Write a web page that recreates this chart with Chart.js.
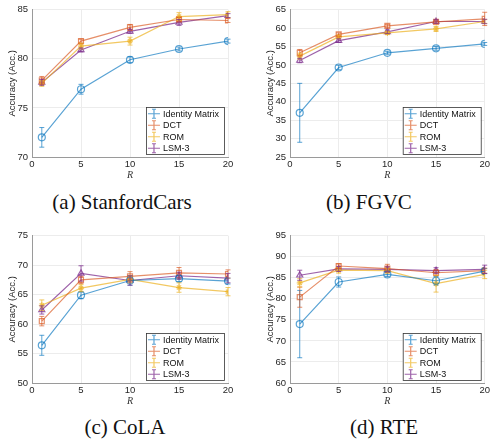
<!DOCTYPE html>
<html>
<head>
<meta charset="utf-8">
<script src="https://cdn.jsdelivr.net/npm/chart.js@4.4.1/dist/chart.umd.min.js"></script>
<style>
  body { margin: 0; background: #fff; width: 492px; height: 440px; overflow: hidden; position: relative; }
  canvas { position: absolute; }
  .cap { position: absolute; font-family: "Liberation Serif", "DejaVu Serif", serif; font-size: 21px; color: #111;
         white-space: nowrap; transform: translate(-50%, -50%); }
</style>
</head>
<body>
<canvas id="cars" width="240" height="185" style="left:0;top:0"></canvas>
<canvas id="fgvc" width="234" height="185" style="left:258px;top:0"></canvas>
<canvas id="cola" width="240" height="185" style="left:0;top:226px"></canvas>
<canvas id="rte" width="234" height="185" style="left:258px;top:226px"></canvas>
<div class="cap" style="left:122px;top:202px">(a) StanfordCars</div>
<div class="cap" style="left:369px;top:202px">(b) FGVC</div>
<div class="cap" style="left:125px;top:427px">(c) CoLA</div>
<div class="cap" style="left:384px;top:427px">(d) RTE</div>
<script>
// x positions (rank R) and series names
const rValues = [1, 5, 10, 15, 20];
const seriesNames = ['Identity Matrix', 'DCT', 'ROM', 'LSM-3'];

// means per panel, one row per series (Identity, DCT, ROM, LSM-3)
const carsMeans = [
  [72.0, 76.9, 79.9, 81.0, 81.8],
  [77.8, 81.8, 83.2, 84.0, 83.9],
  [77.5, 81.3, 81.8, 84.3, 84.5],
  [77.6, 80.9, 82.8, 83.7, 84.4]
];
const carsErrors = [
  [1.0, 0.5, 0.3, 0.2, 0.2],
  [0.4, 0.2, 0.3, 0.2, 0.2],
  [0.3, 0.3, 0.4, 0.4, 0.3],
  [0.3, 0.2, 0.2, 0.3, 0.2]
];
const fgvcMeans = [
  [37.0, 49.3, 53.3, 54.5, 55.7],
  [53.3, 58.3, 60.6, 61.7, 62.5],
  [52.4, 57.6, 58.7, 59.8, 61.8],
  [51.2, 56.6, 59.0, 61.8, 61.8]
];
const fgvcErrors = [
  [8.0, 0.6, 0.4, 0.5, 0.4],
  [0.9, 0.4, 0.4, 0.4, 1.8],
  [0.8, 0.5, 0.4, 0.7, 0.5],
  [0.6, 0.5, 0.5, 0.5, 0.6]
];
const colaMeans = [
  [56.4, 64.9, 67.4, 67.7, 67.3],
  [60.5, 67.5, 68.1, 68.7, 68.5],
  [63.2, 66.1, 67.6, 66.2, 65.5],
  [62.4, 68.6, 67.4, 68.2, 67.8]
];
const colaErrors = [
  [1.7, 0.6, 0.8, 0.5, 0.5],
  [0.8, 0.6, 0.8, 0.9, 0.7],
  [0.9, 0.6, 0.6, 0.8, 0.7],
  [0.7, 1.3, 0.8, 0.6, 0.8]
];
const rteMeans = [
  [74.0, 84.0, 85.8, 84.3, 86.6],
  [80.4, 87.8, 87.2, 86.2, 86.7],
  [83.8, 86.8, 86.7, 83.6, 85.8],
  [85.6, 87.1, 87.0, 86.7, 87.0]
];
const rteErrors = [
  [8.0, 1.2, 0.5, 1.0, 0.6],
  [2.4, 0.5, 1.0, 0.7, 0.6],
  [1.0, 0.7, 0.6, 2.0, 1.0],
  [1.2, 0.6, 0.6, 0.7, 1.0]
];

const colors = ['rgba(0,114,189,0.65)', 'rgba(217,83,25,0.65)', 'rgba(237,177,32,0.7)', 'rgba(126,47,142,0.75)'];
const markers = ['circle', 'rect', 'star', 'triangle'];
const sans = '"Liberation Sans", Arial, sans-serif';

// vertical error bars with caps, drawn through the chart's scales
const errorBars = {
  id: 'errorBars',
  afterDatasetsDraw(chart, args, opts) {
    const { ctx, scales: { x, y } } = chart;
    ctx.save();
    chart.data.datasets.forEach((ds, i) => {
      ctx.strokeStyle = ds.borderColor;
      ctx.lineWidth = 1;
      ds.data.forEach((p, j) => {
        const e = opts.errors[i][j];
        const px = x.getPixelForValue(p.x);
        const top = y.getPixelForValue(p.y + e);
        const bot = y.getPixelForValue(p.y - e);
        ctx.beginPath();
        ctx.moveTo(px, top); ctx.lineTo(px, bot);
        ctx.moveTo(px - 2.5, top); ctx.lineTo(px + 2.5, top);
        ctx.moveTo(px - 2.5, bot); ctx.lineTo(px + 2.5, bot);
        ctx.stroke();
      });
    });
    ctx.restore();
  }
};

// boxed legend inside the lower right corner, MATLAB style
const boxLegend = {
  id: 'boxLegend',
  afterDraw(chart) {
    const { ctx, chartArea } = chart;
    ctx.save();
    ctx.font = '9px ' + sans;
    const textW = Math.max(...seriesNames.map(n => ctx.measureText(n).width));
    const rowH = 11.5;
    const w = textW + 22;
    const h = rowH * seriesNames.length + 1;
    const x0 = chartArea.right - 4 - w;
    const y0 = chartArea.bottom - 3 - h;
    ctx.fillStyle = '#fff';
    ctx.fillRect(x0, y0, w, h);
    ctx.strokeStyle = '#333';
    ctx.lineWidth = 0.8;
    ctx.strokeRect(x0 + 0.5, y0 + 0.5, w, h);
    seriesNames.forEach((name, i) => {
      const cy = y0 + 1 + rowH * i + rowH / 2;
      const cx = x0 + 8;
      ctx.strokeStyle = colors[i];
      ctx.lineWidth = 1.2;
      ctx.beginPath();
      ctx.moveTo(cx - 6, cy); ctx.lineTo(cx + 6, cy);
      ctx.moveTo(cx, cy - 4.5); ctx.lineTo(cx, cy + 4.5);
      ctx.moveTo(cx - 2, cy - 4.5); ctx.lineTo(cx + 2, cy - 4.5);
      ctx.moveTo(cx - 2, cy + 4.5); ctx.lineTo(cx + 2, cy + 4.5);
      ctx.stroke();
      ctx.fillStyle = '#111';
      ctx.textBaseline = 'middle';
      ctx.fillText(name, x0 + 17, cy + 0.5);
    });
    ctx.restore();
  }
};

function drawPanel(id, means, errors, yMin, yMax, rightPad) {
  const datasets = seriesNames.map((name, i) => ({
    label: name,
    data: rValues.map((r, j) => ({ x: r, y: means[i][j] })),
    borderColor: colors[i],
    backgroundColor: 'rgba(255,255,255,0)',
    borderWidth: 1.2,
    pointStyle: markers[i],
    pointRadius: markers[i] === 'star' ? 3 : 3.5,
    pointBorderColor: colors[i],
    pointBackgroundColor: 'rgba(255,255,255,0)',
    pointBorderWidth: 1.2,
    tension: 0
  }));
  new Chart(document.getElementById(id), {
    type: 'line',
    data: { datasets },
    plugins: [errorBars, boxLegend],
    options: {
      responsive: false,
      animation: false,
      layout: { padding: { top: 7, right: rightPad, left: 0, bottom: 0 } },
      plugins: {
        legend: { display: false },
        tooltip: { enabled: false },
        errorBars: { errors }
      },
      scales: {
        x: {
          type: 'linear', min: 0, max: 20,
          afterFit: s => { s.height = 28; },
          ticks: { stepSize: 5, color: '#262626', font: { family: sans, size: 9.5 }, padding: 2, maxRotation: 0 },
          grid: { color: '#ececec', drawTicks: false },
          border: { color: '#9a9a9a' },
          title: { display: true, text: 'R', color: '#333',
                   font: { family: '"Liberation Serif", serif', size: 10, style: 'italic' }, padding: { top: 0, bottom: 4 } }
        },
        y: {
          min: yMin, max: yMax,
          afterFit: s => { s.width = 32; },
          ticks: { stepSize: 5, color: '#262626', font: { family: sans, size: 9.5 }, padding: 4 },
          grid: { color: '#ececec', drawTicks: false },
          border: { color: '#9a9a9a' },
          title: { display: true, text: 'Accuracy (Acc.)', color: '#262626',
                   font: { family: sans, size: 9.5 }, padding: { top: 7, bottom: 0 } }
        }
      }
    }
  });
}

drawPanel('cars', carsMeans, carsErrors, 70, 85, 12);
drawPanel('fgvc', fgvcMeans, fgvcErrors, 25, 65, 5);
drawPanel('cola', colaMeans, colaErrors, 50, 75, 12);
drawPanel('rte', rteMeans, rteErrors, 60, 95, 5);
</script>
</body>
</html>
